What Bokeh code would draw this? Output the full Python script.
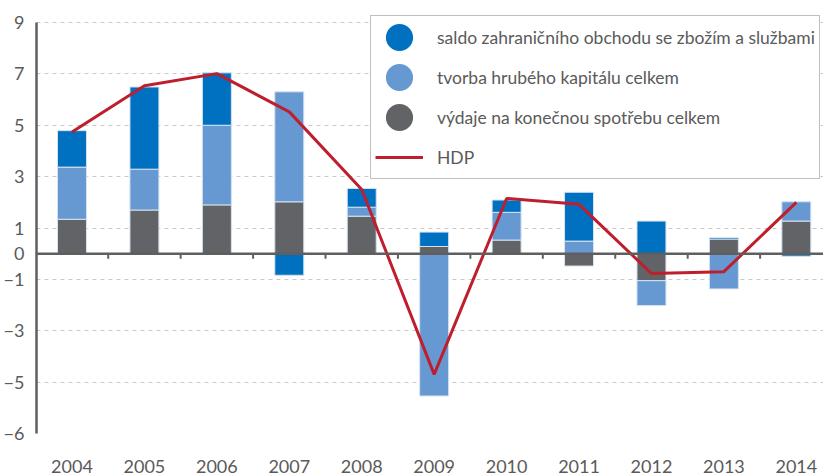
from bokeh.plotting import figure
from bokeh.models import (ColumnDataSource, Range1d, FixedTicker, Span, Legend,
                          LegendItem)
from bokeh.embed import file_html
from bokeh.resources import INLINE

years = ["2004", "2005", "2006", "2007", "2008", "2009", "2010", "2011", "2012", "2013", "2014"]
spotreba = [1.34, 1.70, 1.90, 2.02, 1.46, 0.28, 0.53, -0.48, -1.05, 0.57, 1.27]
kapital = [2.03, 1.59, 3.10, 4.28, 0.35, -5.54, 1.08, 0.49, -0.97, -1.37, 0.75]
saldo = [1.42, 3.20, 2.04, -0.84, 0.73, 0.56, 0.48, 1.90, 1.27, 0.06, -0.10]
hdp = [4.74, 6.54, 7.01, 5.52, 2.50, -4.70, 2.15, 1.92, -0.77, -0.70, 2.00]

names = {
    "spotreba": "výdaje na konečnou spotřebu celkem",
    "kapital": "tvorba hrubého kapitálu celkem",
    "saldo": "saldo zahraničního obchodu se zbožím a službami",
    "hdp": "HDP",
}
y_ticks = [-7, -5, -3, -1, 0, 1, 3, 5, 7, 9]
y_tick_labels = ["−6", "−5", "−3", "−1", "0", "1", "3", "5", "7", "9"]

C_SPOT = "#626366"
C_KAP = "#6699D2"
C_SALDO = "#0070C0"
C_HDP = "#BF1E2D"
C_TEXT = "#5A5A5A"
C_AXIS = "#5F5F5F"
FONT = "Lato"

xs = list(range(len(years)))

# Excel-like stacking: positives upward from 0, negatives downward from 0
pos = [0.0] * len(years)
neg = [0.0] * len(years)
stacks = {}
for key, vals in (("spotreba", spotreba), ("kapital", kapital), ("saldo", saldo)):
    bottoms, tops = [], []
    for i, v in enumerate(vals):
        if v >= 0:
            bottoms.append(pos[i]); tops.append(pos[i] + v); pos[i] += v
        else:
            bottoms.append(neg[i]); tops.append(neg[i] + v); neg[i] += v
    stacks[key] = ColumnDataSource(dict(x=xs, bottom=bottoms, top=tops))

# head room above the top gridline so the legend box is not clipped
y_lo, y_hi = -7, 9
px_per_unit = (433 - 22) / (y_hi - y_lo)
y_top = y_hi + 12 / px_per_unit

p = figure(width=823, height=476, x_range=Range1d(-0.49, 10.375), y_range=Range1d(y_lo, y_top),
           output_backend="svg", toolbar_location=None,
           min_border_left=32, min_border_right=0, min_border_top=10, min_border_bottom=43)
p.outline_line_color = None
p.background_fill_color = "white"

# grid
p.xgrid.visible = False
p.ygrid.ticker = FixedTicker(ticks=[t for t in y_ticks if t != 0])
p.ygrid.grid_line_color = "#C8C8C8"
p.ygrid.grid_line_dash = "4 4"
p.ygrid.grid_line_width = 1

# y axis
p.yaxis.ticker = FixedTicker(ticks=y_ticks)
p.yaxis.bounds = (y_lo, y_hi)
p.yaxis.major_label_overrides = {t: l for t, l in zip(y_ticks, y_tick_labels)}
p.yaxis.axis_line_color = C_AXIS
p.yaxis.axis_line_width = 2.5
p.yaxis.major_tick_line_color = None
p.yaxis.minor_tick_line_color = None
p.yaxis.major_label_standoff = 6
p.yaxis.major_label_text_font = FONT
p.yaxis.major_label_text_font_size = "18px"
p.yaxis.major_label_text_color = C_TEXT

# x axis (labels only)
p.xaxis.ticker = FixedTicker(ticks=xs)
p.xaxis.major_label_overrides = {i: y for i, y in zip(xs, years)}
p.xaxis.axis_line_color = None
p.xaxis.major_tick_line_color = None
p.xaxis.minor_tick_line_color = None
p.xaxis.major_label_standoff = 20
p.xaxis.major_label_text_font = FONT
p.xaxis.major_label_text_font_size = "18px"
p.xaxis.major_label_text_color = C_TEXT

# bars
for key, col in (("spotreba", C_SPOT), ("kapital", C_KAP), ("saldo", C_SALDO)):
    p.vbar(x="x", bottom="bottom", top="top", width=0.4, source=stacks[key],
           fill_color=col, line_color="#D5E2F0", line_width=1)

# zero axis line and category boundary ticks
p.add_layout(Span(location=0, dimension="width", line_color=C_AXIS, line_width=2.5))
bounds = [i + 0.5 for i in xs[:-1]]
p.segment(x0=bounds, y0=[0] * len(bounds), x1=bounds, y1=[-0.2] * len(bounds),
          line_color=C_AXIS, line_width=2)

# HDP line
r_hdp = p.line(xs, hdp, line_color=C_HDP, line_width=3)

# legend proxies (round swatches)
nan = float("nan")
proxies = {}
for key, col in (("saldo", C_SALDO), ("kapital", C_KAP), ("spotreba", C_SPOT)):
    proxies[key] = p.ellipse(x=[nan], y=[nan], width=1, height=1, width_units="screen",
                             height_units="screen", fill_color=col, line_color=None)

legend = Legend(items=[
    LegendItem(label=names["saldo"], renderers=[proxies["saldo"]]),
    LegendItem(label=names["kapital"], renderers=[proxies["kapital"]]),
    LegendItem(label=names["spotreba"], renderers=[proxies["spotreba"]]),
    LegendItem(label=names["hdp"], renderers=[r_hdp]),
], location=(334, 254))
legend.glyph_width = 48
legend.glyph_height = 34
legend.label_standoff = 14
legend.padding = 4
legend.spacing = 6
legend.margin = 0
legend.border_line_color = "#7F7F7F"
legend.border_line_width = 1
legend.background_fill_alpha = 1
legend.label_text_font = FONT
legend.label_text_font_size = "17.5px"
legend.label_text_color = C_TEXT
p.add_layout(legend, "center")

open("out.html", "w").write(file_html(p, INLINE))
